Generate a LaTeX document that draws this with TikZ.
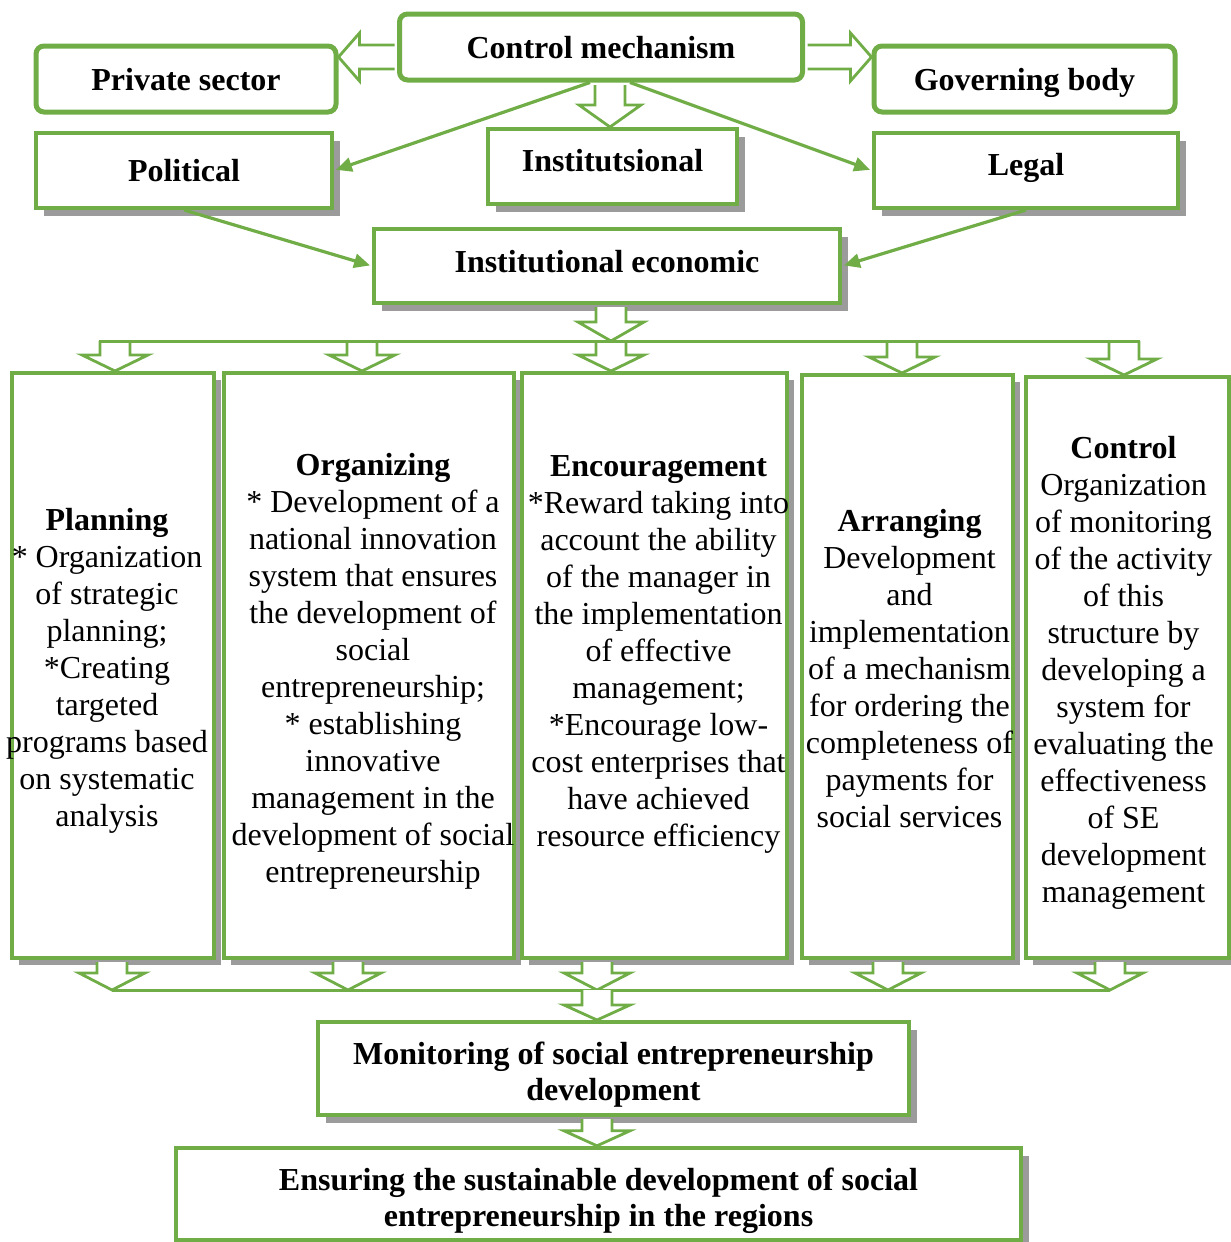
\documentclass[tikz,border=0pt]{standalone}
\usepackage{fontspec}
\setmainfont{Liberation Serif}
\usetikzlibrary{calc,shadows,arrows.meta}

\definecolor{leafgreen}{HTML}{70AD47}
\definecolor{shadowgray}{HTML}{9B9B9B}

% hollow block arrow from #2 to the tip #3, #1 = head length
\newcommand{\shaftw}{7.5pt}
\newcommand{\headw}{16.5pt}
\newcommand{\blockarrow}[3][8.5pt]{%
  \coordinate (ba) at ($(#3)!#1!(#2)$);
  \filldraw[hollow] ($(#2)!\shaftw!90:(#3)$) -- ($(ba)!\shaftw!90:(#3)$)
    -- ($(ba)!\headw!90:(#3)$) -- (#3) -- ($(ba)!\headw!-90:(#3)$)
    -- ($(ba)!\shaftw!-90:(#3)$) -- ($(#2)!\shaftw!-90:(#3)$);}

\begin{document}
\begin{tikzpicture}[x=0.5pt,y=-0.5pt,
    roundbox/.style={draw=leafgreen, line width=2.5pt, rounded corners=4pt, fill=white,
      font=\fontsize{16}{18.5}\selectfont\bfseries, text depth=0pt},
    flatbox/.style={draw=leafgreen, line width=2pt, fill=white, align=center,
      font=\fontsize{16}{18}\selectfont\bfseries,
      general shadow={fill=shadowgray, shadow xshift=4pt, shadow yshift=-4pt}},
    colbox/.style={draw=leafgreen, line width=2pt, fill=white,
      general shadow={fill=shadowgray, shadow xshift=3.5pt, shadow yshift=-3.5pt}},
    coltext/.style={align=center, inner sep=0pt, font=\fontsize{16}{18.5}\selectfont},
    hollow/.style={draw=leafgreen, line width=1.4pt, fill=white, line join=miter},
    link/.style={draw=leafgreen, line width=1.6pt, shorten >=1pt,
      -{Triangle[length=8pt,width=7pt]}},
    bar/.style={draw=leafgreen, line width=1.5pt}]

  \useasboundingbox (0,0) rectangle (1231,1242);

  % top level
  \node[roundbox, minimum width=201.5pt, minimum height=33pt] (cm) at (601,47) {Control mechanism};
  \node[roundbox, minimum width=150pt, minimum height=33pt] (ps) at (186,79) {Private sector};
  \node[roundbox, minimum width=150.5pt, minimum height=33pt] (gb) at (1024.5,79) {Governing body};

  \node[flatbox, minimum width=148pt, minimum height=37.5pt] (pol) at (184,170.5) {Political};
  \node[flatbox, minimum width=124.5pt, minimum height=37.5pt, text depth=6.5pt] (inst) at (612.5,166.5) {Institutsional};
  \node[flatbox, minimum width=152pt, minimum height=37.5pt, text depth=6.5pt] (leg) at (1026,170.5) {Legal};
  \node[flatbox, minimum width=233pt, minimum height=37pt, text depth=5pt] (ie) at (607,266) {Institutional economic};

  % columns
  \node[colbox, minimum width=101pt, minimum height=292.5pt] (plan) at (113,665.5) {};
  \node[colbox, minimum width=145pt, minimum height=292.5pt] (org) at (369,665.5) {};
  \node[colbox, minimum width=132.5pt, minimum height=292.5pt] (enc) at (654.5,665.5) {};
  \node[colbox, minimum width=105.5pt, minimum height=291.5pt] (arr) at (907.5,666.5) {};
  \node[colbox, minimum width=101.5pt, minimum height=290.5pt] (ctl) at (1127.5,667.5) {};

  \node[coltext] (plan-t) at ([xshift=-3pt,yshift=-2.5pt]plan.center) {\textbf{Planning}\\{*} Organization\\of strategic\\planning;\\{*}Creating\\targeted\\programs based\\on systematic\\analysis};
  \node[coltext] (org-t) at ([xshift=2pt,yshift=-3pt]org.center) {\textbf{Organizing}\\{*} Development of a\\national innovation\\system that ensures\\the development of\\social\\entrepreneurship;\\{*} establishing\\innovative\\management in the\\development of social\\entrepreneurship};
  \node[coltext] (enc-t) at ([xshift=2pt,yshift=5.5pt]enc.center) {\textbf{Encouragement}\\{*}Reward taking into\\account the ability\\of the manager in\\the implementation\\of effective\\management;\\{*}Encourage low-\\cost enterprises that\\have achieved\\resource efficiency};
  \node[coltext] (arr-t) at ([xshift=1pt,yshift=-1pt]arr.center) {\textbf{Arranging}\\Development\\and\\implementation\\of a mechanism\\for ordering the\\completeness of\\payments for\\social services};
  \node[coltext] (ctl-t) at ([xshift=-2pt,yshift=-2.5pt]ctl.center) {\textbf{Control}\\Organization\\of monitoring\\of the activity\\of this\\structure by\\developing a\\system for\\evaluating the\\effectiveness\\of SE\\development\\management};

  % bottom
  \node[flatbox, minimum width=295.5pt, minimum height=46.5pt, text height=35pt] (mon) at (613.5,1068.5) {Monitoring of social entrepreneurship\\development};
  \node[flatbox, minimum width=422.5pt, minimum height=46pt, text height=36pt] (ens) at (598.5,1194) {Ensuring the sustainable development of social\\entrepreneurship in the regions};

  % thin arrows
  \draw[link] ([xshift=-5.5pt]cm.south) -- (pol.east);
  \draw[link] ([xshift=14.5pt]cm.south) -- (leg.west);
  \draw[link] (pol.south) -- (ie.west);
  \draw[link] (leg.south) -- (ie.east);

  % block arrows at the top
  \begin{scope}
    \renewcommand{\shaftw}{6pt}\renewcommand{\headw}{12pt}
    \coordinate (cm-l) at ([xshift=-1.25pt,yshift=-5pt]cm.west);
    \coordinate (ps-r) at (ps.east |- cm-l);
    \coordinate (cm-r) at ([xshift=1.25pt,yshift=-5pt]cm.east);
    \coordinate (gb-l) at (gb.west |- cm-r);
    \blockarrow[10.5pt]{cm-l}{ps-r}
    \blockarrow[10.5pt]{cm-r}{gb-l}
  \end{scope}
  \begin{scope}
    \renewcommand{\headw}{15.5pt}
    \coordinate (cm-d) at ([xshift=4.5pt,yshift=-1.25pt]cm.south);
    \coordinate (inst-u) at (cm-d |- inst.north);
    \blockarrow[11pt]{cm-d}{inst-u}
  \end{scope}

  % to the columns
  \coordinate (bt-l) at (99,341);
  \coordinate (bt-r) at (1140,341);
  \coordinate (ie-d) at ([xshift=2pt,yshift=-1pt]ie.south);
  \coordinate (bt-ie) at (ie-d |- bt-l);
  \blockarrow[9.5pt]{ie-d}{bt-ie}
  \foreach \x/\col in {115/plan,362/org,611/enc,902/arr,1124/ctl}{
    \coordinate (bt-\col) at (\x,341);
    \coordinate (tip-\col) at (bt-\col |- \col.north);
    \blockarrow[8pt]{bt-\col}{tip-\col}
  }
  \draw[bar] (bt-l) -- (bt-r);

  % from the columns
  \foreach \x/\col in {112/plan,348/org,597/enc,888/arr,1110/ctl}{
    \coordinate (bb-\col) at (\x,990);
    \coordinate (bs-\col) at (bb-\col |- \col.south);
    \coordinate (bd-\col) at ([yshift=-1pt]bs-\col);
    \blockarrow[8.5pt]{bd-\col}{bb-\col}
  }
  \draw[bar] (bb-plan) -- (bb-ctl);

  \coordinate (mon-u) at (bb-enc |- mon.north);
  \blockarrow[7.5pt]{bb-enc}{mon-u}
  \coordinate (mon-s) at (bb-enc |- mon.south);
  \coordinate (mon-d) at ([yshift=-1pt]mon-s);
  \coordinate (ens-u) at (mon-s |- ens.north);
  \blockarrow[7.5pt]{mon-d}{ens-u}

\end{tikzpicture}
\end{document}
